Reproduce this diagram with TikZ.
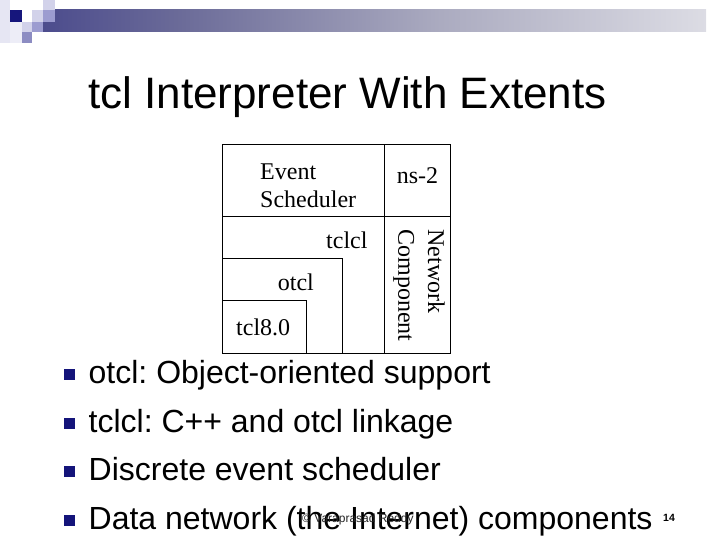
\documentclass[tikz,border=0pt]{standalone}
\usepackage{fontspec}
\setmainfont{Liberation Serif}
\newfontfamily\arialf{Liberation Sans}
\frenchspacing
\definecolor{navy}{HTML}{16167C}
\definecolor{bulletc}{HTML}{14147A}
\definecolor{barA}{HTML}{1A1A7E}
\definecolor{barB}{HTML}{2E2E82}
\definecolor{barC}{HTML}{6A6A98}
\definecolor{barD}{HTML}{ABABC0}
\definecolor{barE}{HTML}{DCDCE4}
\definecolor{paleL}{HTML}{D2D2EA}
\definecolor{medL}{HTML}{9C9CD0}
\definecolor{darkL}{HTML}{8C8CC2}
\definecolor{veryPale}{HTML}{E6E6F3}
\pgfdeclarehorizontalshading{barshade}{100bp}{color(0bp)=(barA); color(15bp)=(barB); color(35bp)=(barC); color(55bp)=(barD); color(75bp)=(barE); color(100bp)=(white)}
\begin{document}
\begin{tikzpicture}[x=1pt,y=-1pt,
  boxline/.style={draw=black,line width=1.1pt},
  dtext/.style={inner sep=0pt,anchor=base west,font=\fontsize{24}{28}\selectfont},
  bullettext/.style={inner sep=0pt,anchor=base west,font=\arialf\fontsize{32}{38}\selectfont},
  bulletsq/.style={fill=bulletc,draw=none}]
\useasboundingbox (0,0) rectangle (720,540);
% decoration
\fill[veryPale] (0,0) rectangle (10,43);
\fill[veryPale!70!white] (10,22) rectangle (22,43);
\shade[shading=barshade] (43,10) rectangle (706,32);
\fill[navy] (10,10) rectangle (22,22);
\fill[paleL] (43,0) rectangle (55,10);
\fill[medL] (43,10) rectangle (55,22);
\fill[paleL] (32,10) rectangle (43,22);
\fill[medL] (32,22) rectangle (43,32);
\fill[paleL] (22,22) rectangle (32,32);
\fill[darkL] (22,32) rectangle (32,43);
% title
\node[inner sep=0pt,anchor=base west,font=\arialf\fontsize{44}{50}\selectfont] (title) at (88,109) {tcl Interpreter With Extents};
% diagram
\draw[boxline] (222.7,144.3) rectangle (450.7,353.7);
\draw[boxline] (384.3,144.3) -- (384.3,353.7);
\draw[boxline] (222.7,216.3) -- (450.7,216.3);
\draw[boxline] (222.7,258.3) -- (342.3,258.3) -- (342.3,353.7);
\draw[boxline] (222.7,300.7) -- (306.3,300.7) -- (306.3,353.7);
\node[dtext] (ev) at (260,179.3) {Event};
\node[dtext] (sch) at (260,207.7) {Scheduler};
\node[dtext] (ns) at (396.7,183.3) {ns-2};
\node[dtext] (tclcl) at (326,248.3) {tclcl};
\node[dtext] (otcl) at (277.7,290) {otcl};
\node[dtext] (tcl) at (236,335) {tcl8.0};
\node[dtext,rotate=-90] (net) at (428,229.3) {Network};
\node[dtext,rotate=-90] (comp) at (398.3,229.3) {Component};
% bullets
\foreach \yy/\txt [count=\i] in {383.5/{otcl: Object-oriented support},432/{tclcl: C++ and otcl linkage},480.5/{Discrete event scheduler},529/{Data network (the Internet) components}}{
  \fill[bulletsq] (63.5,\yy-14.5) rectangle (74.5,\yy-3.5);
  \node[bullettext] (b\i) at (88.5,\yy) {\txt};
}
% footer
\node[inner sep=0pt,anchor=base west,font=\arialf\fontsize{12}{14}\selectfont,text=black!85] (foot) at (302,522) {© Varaprasad Reddy};
\node[inner sep=0pt,anchor=base west,font=\arialf\bfseries\fontsize{10.5}{12}\selectfont] (pg) at (663,521.7) {14};
\end{tikzpicture}
\end{document}
